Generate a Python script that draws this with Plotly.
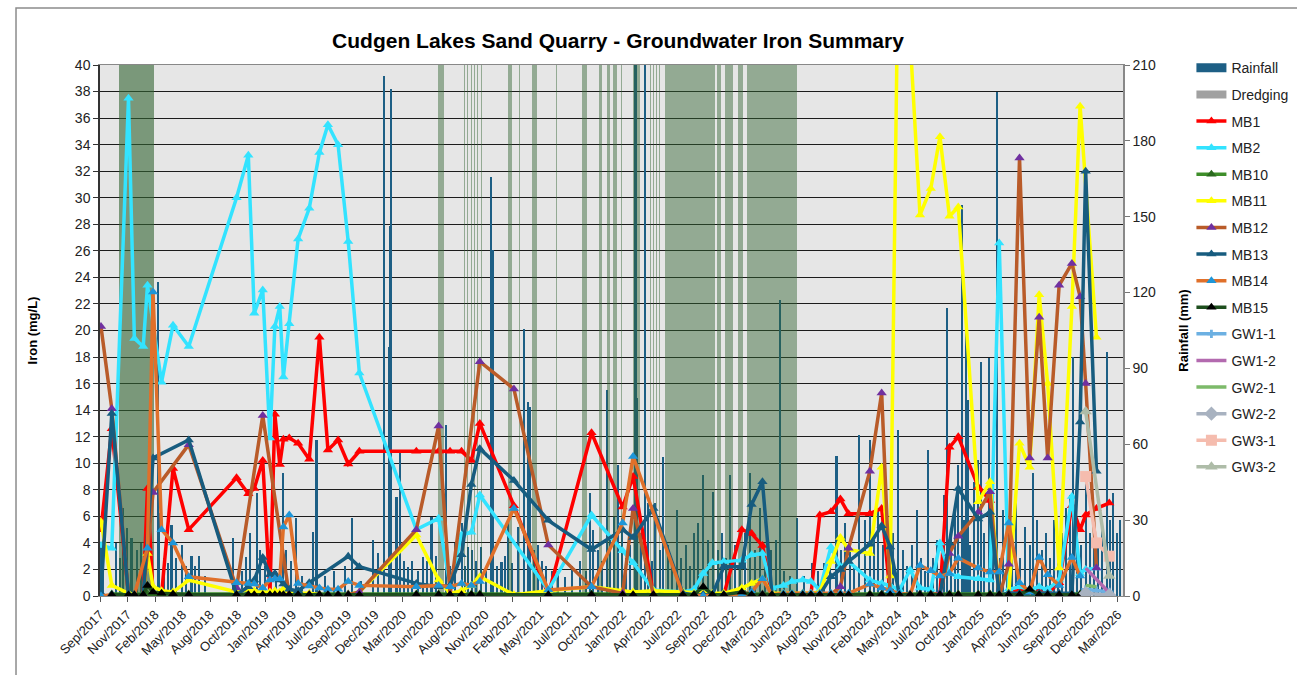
import pandas as pd
import plotly.graph_objects as go

N = None
FONT = "Liberation Sans, Arial, sans-serif"

# ---------------- data ----------------
sample_dates = [
    "2017-09-04", "2017-10-07", "2017-11-27", "2017-12-15", "2018-01-11", "2018-01-24", "2018-02-10", "2018-03-08", "2018-04-12", "2018-05-30",
    "2018-10-23", "2018-11-28", "2018-12-16", "2019-01-11", "2019-02-02", "2019-02-17", "2019-03-04", "2019-03-15", "2019-04-02", "2019-04-29",
    "2019-06-02", "2019-07-03", "2019-07-29", "2019-08-29", "2019-09-29", "2019-11-02", "2020-04-24", "2020-07-01", "2020-08-05", "2020-09-09",
    "2020-10-09", "2020-11-04", "2021-02-16", "2021-06-01", "2021-10-11", "2022-01-14", "2022-02-15", "2022-04-18", "2022-07-17", "2022-08-20",
    "2022-09-17", "2022-10-15", "2022-11-19", "2023-01-13", "2023-02-12", "2023-03-17", "2023-04-15", "2023-05-20", "2023-06-15", "2023-07-18",
    "2023-08-12", "2023-09-08", "2023-10-12", "2023-11-10", "2023-12-05", "2024-02-08", "2024-03-15", "2024-04-10", "2024-05-08", "2024-06-10",
    "2024-07-10", "2024-08-12", "2024-09-09", "2024-10-08", "2024-11-04", "2025-01-04", "2025-02-09", "2025-03-09", "2025-04-07", "2025-05-10",
    "2025-06-10", "2025-07-09", "2025-08-04", "2025-09-08", "2025-10-17", "2025-11-11", "2025-11-28", "2025-12-31", "2026-02-08",
]

mb1 = [5.0, 12.6, 0.1, 0.1, 0.1, 8.1, 0.1, 0.1, 9.6, 5.0,
       8.9, 7.7, 8.1, 10.2, 0.2, 13.7, 9.9, 11.8, 11.9, 11.5,
       10.3, 19.5, 11.0, 11.75, 9.95, 10.9, 10.9, 10.9, 10.9, 10.9,
       10.2, 13.0, 6.8, 0.1, 12.3, 6.7, 9.0, 0.1, 0.1, 0.1,
       0.1, 0.1, 0.1, 5.0, 4.7, 3.8, 0.1, 0.1, 0.1, 0.1,
       0.1, 6.1, 6.35, 7.3, 6.2, 6.2, 6.6, 0.1, 0.1, 0.1,
       0.1, 0.1, 0.1, 11.2, 12.0, 8.2, 7.2, 0.1, 0.2, 0.5,
       0.2, 0.3, 0.2, 1.0, 6.8, 5.0, 6.1, 6.6, 7.0]

mb2 = [3.8, 3.6, 37.5, 19.4, 18.8, 23.4, N, 16.1, 20.4, 18.8,
       30.0, 33.2, 21.3, 23.05, 11.9, 20.3, 21.8, 16.5, 20.5, 26.9,
       29.2, 33.4, 35.5, 34.0, 26.7, 16.8, 5.0, 5.85, 0.8, 4.6,
       4.8, 7.6, N, 0.45, 6.1, 3.4, 2.5, 0.45, 0.3, 0.5,
       1.7, 2.5, 2.6, 2.7, 3.1, 3.2, 0.6, 0.8, 1.1, 1.2,
       1.1, 0.45, 3.7, 2.2, 2.6, 1.2, 0.95, 0.8, 0.45, 1.96,
       0.6, 0.5, 4.0, 1.7, 1.45, 1.3, 1.2, 26.6, 0.5, 0.7,
       0.5, 0.7, 0.5, 1.2, 7.5, 1.7, 2.0, 2.1, N]

mb10 = [N, 0.15, 0.15, 0.15, 0.15, 0.15, 0.15, 0.15, 0.15, 0.15,
        0.15, 0.15, 0.15, 0.15, 0.15, 0.15, 0.15, 0.15, 0.15, 0.15,
        0.15, 0.15, 0.15, 0.15, 0.15, 0.15, 0.15, 0.15, 0.15, 0.15,
        0.15, 0.15, N, 0.15, 0.15, 0.15, 0.15, 0.15, 0.15, 0.15,
        0.15, 0.15, 0.15, 0.15, 0.15, 0.15, 0.15, 0.15, 0.15, 0.15,
        0.15, 0.15, 0.15, 0.15, 0.15, 0.15, 0.15, 0.15, 0.15, 0.15,
        0.15, 0.15, 0.15, 0.15, 0.15, 0.15, 0.15, 0.15, 0.15, 0.15,
        0.15, 0.15, 0.15, 0.15, 0.15, 0.15, N, N, N]

mb11 = [5.6, 0.8, 0.2, 0.1, 0.1, 3.2, 0.7, 0.4, 0.3, 1.2,
        0.3, 0.5, 0.4, 0.3, 0.3, 0.4, 0.3, 0.5, 0.3, 0.2,
        0.2, 0.1, 0.1, 0.1, 0.1, 0.3, 4.6, 1.2, 0.2, 0.4,
        0.8, 1.45, 0.1, 0.4, 0.7, 0.4, 0.3, 0.4, 0.3, 0.2,
        0.2, 0.2, 0.2, 0.6, 0.95, 1.3, 0.2, 0.2, 0.2, 0.2,
        0.2, 0.3, 2.6, 4.4, 3.5, 3.2, 9.7, 1.5, 55.0, 42.0,
        28.7, 30.7, 34.6, 28.6, 29.3, 7.1, 8.6, 0.1, 0.2, 11.5,
        9.7, 22.7, 16.0, 2.1, 21.8, 36.9, N, 19.5, N]

mb12 = [20.3, 14.1, 0.1, 0.1, 0.1, N, 7.8, N, N, 11.4,
        0.6, N, N, 13.6, N, N, N, N, 0.0, 0.1,
        0.1, 0.1, 0.1, 0.1, 0.1, 0.3, 5.0, 12.8, 0.1, N,
        N, 17.65, 15.6, 3.85, 0.7, 0.2, 6.6, 0.1, 0.1, 0.1,
        0.1, 0.1, 0.1, 0.1, 0.1, 0.1, 0.1, 0.1, 0.1, 0.1,
        0.1, 0.1, 0.1, 0.7, 3.6, 9.4, 15.3, 0.1, 0.1, 0.1,
        0.1, 0.1, 0.2, 3.2, 4.5, 6.3, 7.85, 0.0, 2.4, 33.0,
        10.4, 21.0, 10.4, 23.4, 25.05, 22.55, 16.0, 2.1, N]

mb13 = [0.2, 13.75, 0.1, 0.1, 0.1, N, 10.4, N, N, 11.75,
        0.1, 0.7, 1.2, 2.9, 1.6, 1.7, 1.2, 0.9, 0.5, 0.4,
        1.0, N, N, N, 3.0, 2.2, 0.95, 0.7, 0.8, 3.1,
        8.4, 11.1, 8.7, 5.7, 3.5, 5.0, 4.4, 6.6, 0.2, 0.1,
        0.1, 0.1, 2.2, 2.2, 6.9, 8.6, 0.1, 0.1, 0.1, 0.1,
        0.1, 0.1, 1.45, 2.0, 2.6, 3.9, 5.3, 3.7, 0.1, 0.1,
        0.1, 0.1, 0.1, 4.0, 8.1, 5.8, 6.3, 0.1, 0.2, 0.2,
        0.2, 0.2, 0.2, 0.2, 0.2, 13.1, 32.0, 9.4, N]

mb14 = [0.0, 0.1, 0.1, 0.1, N, 3.6, 22.9, 5.0, 4.0, 1.45,
        1.0, 0.95, 0.9, 0.6, 1.2, 1.3, 1.3, 5.2, 6.1, 0.95,
        0.75, 0.6, 0.5, 0.5, 1.1, 0.8, 0.7, 0.8, 0.7, 0.95,
        0.8, 1.1, 6.6, 0.45, 0.7, 5.5, 10.5, N, 0.1, 0.1,
        0.0, 0.1, 0.1, 0.1, 0.3, 1.3, 0.1, 0.2, 0.2, 0.2,
        0.2, 0.2, 0.2, 0.2, 0.2, 0.9, 0.6, 0.4, 0.2, 0.1,
        2.3, 1.9, 1.5, 1.7, 2.85, 2.1, 1.8, 1.8, 5.5, 1.0,
        0.3, 2.9, 1.6, 0.8, 2.9, 1.5, N, N, N]

mb15 = [N, 0.1, 0.1, 0.1, 0.1, 0.8, 0.3, 0.2, 0.15, 0.1,
        0.1, 0.1, 0.1, 0.1, 0.1, 0.1, 0.1, 0.1, 0.1, 0.1,
        0.1, 0.1, 0.1, 0.1, 0.1, 0.1, 0.1, 0.1, 0.1, 0.1,
        0.1, 0.1, N, 0.1, 0.1, 0.1, 0.1, 0.1, 0.1, 0.1,
        0.7, 0.1, 0.1, 0.3, 0.1, 0.1, 0.1, 0.1, 0.1, 0.1,
        0.1, 0.1, 0.1, 0.1, 0.1, 0.1, 0.1, 0.1, 0.1, 0.1,
        0.1, 0.1, 0.1, 0.1, 0.1, 0.1, 0.1, 0.1, 0.1, 0.1,
        0.5, 0.1, 0.1, 0.1, 0.1, 0.1, N, N, N]

gw_dates = ["2025-11-28", "2025-12-31", "2026-02-08"]
gw1_1 = [0.5, 0.4, 0.3]
gw1_2 = [2.1, N, 0.25]
gw2_1 = [0.8, 0.7, N]
gw2_2 = [0.2, N, 0.05]
gw3_1 = [9.0, 4.0, 3.0]
gw3_2 = [13.9, N, 1.5]

# rainfall: day number counted from RAIN_DAY0, and mm
RAIN_DAY0 = "2017-09-01"
rain_day = [3, 9, 49, 61, 70, 82, 97, 113, 125, 141, 178, 182, 195, 208, 219, 232, 250, 263, 280, 290,
            303, 321, 407, 434, 446, 458, 479, 489, 504, 519, 538, 560, 568, 583, 599, 617, 652, 662, 687, 715,
            748, 771, 797, 835, 849, 868, 883, 886, 890, 906, 916, 929, 942, 953, 971, 988, 999, 1013, 1026, 1057,
            1069, 1084, 1105, 1115, 1125, 1136, 1148, 1164, 1179, 1196, 1201, 1213, 1227, 1237, 1247, 1258, 1278, 1295, 1308, 1315,
            1326, 1338, 1350, 1362, 1381, 1399, 1420, 1442, 1466, 1484, 1497, 1507, 1521, 1533, 1548, 1558, 1570, 1583, 1594, 1607,
            1619, 1636, 1640, 1653, 1666, 1675, 1686, 1695, 1710, 1719, 1735, 1747, 1762, 1775, 1790, 1802, 1814, 1827, 1843, 1857,
            1873, 1888, 1900, 1912, 1924, 1940, 1955, 1970, 1985, 2001, 2016, 2031, 2050, 2065, 2077, 2089, 2108, 2128, 2150, 2175,
            2193, 2211, 2230, 2250, 2263, 2276, 2291, 2303, 2319, 2337, 2352, 2364, 2376, 2392, 2407, 2422, 2438, 2453, 2465, 2480,
            2495, 2508, 2520, 2530, 2544, 2557, 2569, 2578, 2588, 2599, 2612, 2622, 2632, 2639, 2644, 2650, 2657, 2670, 2683, 2690,
            2700, 2715, 2728, 2739, 2749, 2759, 2770, 2786, 2798, 2810, 2825, 2841, 2851, 2862, 2877, 2890, 2902, 2914, 2926, 2938,
            2951, 2963, 2973, 2984, 2996, 3012, 3024, 3036, 3048, 3061, 3077, 3085, 3095, 3106, 3116]
rain_mm = [21, 25, 21, 15, 35, 27, 23, 18, 21, 15, 124, 33, 15, 13, 28, 15, 20, 12, 16, 12,
           16, 8, 23, 10, 15.5, 25, 40.6, 18, 12, 18, 10, 48.5, 18, 14, 30.7, 8, 25.4, 61.7, 8, 10,
           12, 30.7, 6, 22, 17, 205.7, 98.6, 146.5, 200.5, 39.3, 56.4, 14, 11.6, 14, 10, 15.5, 14, 31.4, 16, 67.6,
           12, 20.8, 28.7, 12, 19.5, 18, 14, 19.5, 10, 165.8, 136.8, 12, 13.6, 16, 30, 13, 27.4, 105.5, 76.8, 74.9,
           18, 20, 14, 12, 10, 10, 7.6, 12, 14, 10, 40.6, 26, 18, 14, 81.5, 22, 31.4, 51.8, 31, 15,
           20, 215, 78.5, 25, 215, 36.7, 14, 36.7, 18, 54.8, 20, 12, 34, 15, 20, 12, 25, 28.7, 47.9, 22,
           41.3, 18, 25, 15, 48, 20, 14, 25, 48.5, 18, 35, 14, 18, 22, 117, 10, 8, 31, 8, 13,
           10, 13, 12, 55.4, 18, 28.7, 20, 12, 63.7, 30, 61.7, 22, 35, 20, 15, 25, 65.7, 18, 12, 20,
           34, 15, 10, 57.7, 15, 22, 12, 40, 114, 25, 35, 52, 154.6, 30, 108, 77.5, 20, 45, 53.8, 92.7,
           25, 94.2, 20, 199.5, 15, 34, 20, 25, 45, 15, 27.4, 20, 48.5, 30, 18, 25, 15, 30, 20, 25,
           35, 40, 94.6, 30, 20, 45, 25, 35, 20, 28, 96.4, 30, 40.6, 25, 30]

dredge_start = ["2017-10-29", "2020-06-29", "2020-09-18", "2020-09-27", "2020-10-07", "2020-10-16", "2020-10-25",
                "2020-11-06", "2021-01-29", "2021-03-05", "2021-04-11", "2021-06-26", "2021-09-11", "2021-11-04",
                "2021-11-26", "2021-12-17", "2022-01-10", "2022-02-16", "2022-04-07", "2022-04-16", "2022-04-25",
                "2022-05-04", "2022-05-23", "2022-10-29", "2022-11-23", "2023-01-01", "2023-01-29"]
dredge_end = ["2018-02-12", "2020-07-17", "2020-09-20", "2020-09-29", "2020-10-09", "2020-10-18", "2020-10-27",
              "2020-11-08", "2021-02-10", "2021-03-07", "2021-04-26", "2021-06-28", "2021-09-26", "2021-11-11",
              "2021-12-06", "2021-12-27", "2022-01-12", "2022-03-08", "2022-04-09", "2022-04-18", "2022-04-27",
              "2022-05-08", "2022-10-23", "2022-11-10", "2022-12-17", "2023-01-16", "2023-06-28"]
DREDGE_LEVEL = 210

tick_labels = ["Sep/2017", "Nov/2017", "Feb/2018", "May/2018", "Aug/2018", "Oct/2018", "Jan/2019", "Apr/2019",
               "Jul/2019", "Sep/2019", "Dec/2019", "Mar/2020", "Jun/2020", "Aug/2020", "Nov/2020", "Feb/2021",
               "May/2021", "Jul/2021", "Oct/2021", "Jan/2022", "Apr/2022", "Jul/2022", "Sep/2022", "Dec/2022",
               "Mar/2023", "Jun/2023", "Aug/2023", "Nov/2023", "Feb/2024", "May/2024", "Jul/2024", "Oct/2024",
               "Jan/2025", "Apr/2025", "Jun/2025", "Sep/2025", "Dec/2025", "Mar/2026"]
X_START = "2017-09-01"
X_END = "2026-03-22"
TICK_STEP_DAYS = 84


def fit(vals, n):
    vals = list(vals)[:n]
    return vals + [None] * (n - len(vals))


n_s = len(sample_dates)
# --------------- derived ---------------
tickvals = [(pd.Timestamp(X_START) + pd.Timedelta(days=TICK_STEP_DAYS * k)).strftime("%Y-%m-%d")
            for k in range(len(tick_labels))]
rain_dates = [(pd.Timestamp(RAIN_DAY0) + pd.Timedelta(days=d)).strftime("%Y-%m-%d") for d in rain_day]
ds = pd.to_datetime(dredge_start)
de = pd.to_datetime(dredge_end) + pd.Timedelta(days=1)
dredge_mid = [(a + (b - a) / 2).strftime("%Y-%m-%d %H:%M") for a, b in zip(ds, de)]
dredge_w = [(b - a).total_seconds() * 1000 for a, b in zip(ds, de)]

fig = go.Figure()

RAIN_COLOR = "#1d5f85"
fig.add_trace(go.Bar(x=rain_dates, y=rain_mm, name="Rainfall", yaxis="y", showlegend=False,
                     width=5 * 86400000, marker=dict(color=RAIN_COLOR, line=dict(width=0))))
# dredging periods: first campaign denser shading, later campaigns lighter
fig.add_trace(go.Bar(x=dredge_mid[:1], y=[DREDGE_LEVEL], width=dredge_w[:1], yaxis="y",
                     marker=dict(color="rgba(50,100,50,0.6)", line=dict(width=0)),
                     showlegend=False, hoverinfo="skip"))
fig.add_trace(go.Bar(x=dredge_mid[1:], y=[DREDGE_LEVEL] * (len(dredge_mid) - 1), width=dredge_w[1:], yaxis="y",
                     marker=dict(color="rgba(50,100,50,0.46)", line=dict(width=0)),
                     showlegend=False, hoverinfo="skip"))

# legend keys for the column series (wide rectangular swatches)
fig.add_trace(go.Scatter(x=[None], y=[None], name="Rainfall", mode="lines", yaxis="y",
                         line=dict(color=RAIN_COLOR, width=9), legendgroup="g0"))
fig.add_trace(go.Scatter(x=[None], y=[None], name="Dredging", mode="lines", yaxis="y",
                         line=dict(color="#a1a1a1", width=8), legendgroup="g1"))

series = [
    ("MB1", mb1, "#ff0000", "#ff0000", "triangle-up", "lines+markers"),
    ("MB2", mb2, "#33e3ff", "#33e3ff", "triangle-up", "lines+markers"),
    ("MB10", mb10, "#3e8e2a", "#2b6b1f", "triangle-up", "lines+markers"),
    ("MB11", mb11, "#ffff00", "#ffff00", "triangle-up", "lines+markers"),
    ("MB12", mb12, "#b95b29", "#7030a0", "triangle-up", "lines+markers"),
    ("MB13", mb13, "#175c7f", "#175c7f", "triangle-up", "lines+markers"),
    ("MB14", mb14, "#e0702a", "#1e96d8", "triangle-up", "lines+markers"),
    ("MB15", mb15, "#1e4f1e", "#000000", "triangle-up", "lines+markers"),
]
for i, (name, vals, lc, mc, sym, mode) in enumerate(series):
    fig.add_trace(go.Scatter(x=sample_dates, y=fit(vals, n_s), name=name, mode=mode, yaxis="y2",
                             connectgaps=True, line=dict(color=lc, width=3.5),
                             marker=dict(color=mc, symbol=sym, size=9, line=dict(width=0)),
                             legendgroup="s%d" % i))

gw = [
    ("GW1-1", gw1_1, "#6cb0e2", "cross", 7, "lines+markers"),
    ("GW1-2", gw1_2, "#b36aaf", "circle", 1, "lines"),
    ("GW2-1", gw2_1, "#7dba6a", "circle", 1, "lines"),
    ("GW2-2", gw2_2, "#a8b2c0", "diamond", 11, "lines+markers"),
    ("GW3-1", gw3_1, "#f5bcae", "square", 11, "lines+markers"),
    ("GW3-2", gw3_2, "#aebca8", "triangle-up", 11, "lines+markers"),
]
for i, (name, vals, c, sym, sz, mode) in enumerate(gw):
    fig.add_trace(go.Scatter(x=gw_dates, y=vals, name=name, mode=mode, yaxis="y2",
                             connectgaps=True, line=dict(color=c, width=3.5),
                             marker=dict(color=c, symbol=sym, size=sz, line=dict(width=0)),
                             legendgroup="gw%d" % i))

fig.update_layout(
    width=1297, height=675,
    margin=dict(l=100, r=174, t=65, b=79, autoexpand=False),
    paper_bgcolor="white", plot_bgcolor="#e6e6e6",
    barmode="overlay", bargap=0,
    font=dict(family=FONT, color="#222222"),
    title=dict(text="Cudgen Lakes Sand Quarry - Groundwater Iron Summary",
               x=0.4765, xanchor="center", xref="container", y=0.94, yanchor="middle",
               font=dict(size=21, family=FONT, color="black", weight="bold")),
    xaxis=dict(type="date", range=[X_START, X_END], tickmode="array", tickvals=tickvals, ticktext=tick_labels,
               tickangle=-45, ticks="outside", ticklen=5, tickcolor="#555", showline=True, linecolor="#888",
               linewidth=1, mirror=True, showgrid=False, zeroline=False,
               tickfont=dict(size=13, family=FONT, color="#222")),
    yaxis=dict(range=[0, 210], dtick=30, side="right", showgrid=False, zeroline=False,
               ticks="outside", ticklen=5, tickcolor="#777", showline=True, linecolor="#888", linewidth=1.5,
               tickfont=dict(size=14, family=FONT, color="#222"),
               title=dict(text="Rainfall (mm)", standoff=26,
                          font=dict(size=13, family=FONT, color="black", weight="bold"))),
    yaxis2=dict(range=[0, 40], dtick=2, side="left", overlaying="y", showgrid=True,
                gridcolor="#1c1c1c", gridwidth=1.2, zeroline=False,
                ticks="outside", ticklen=5, tickcolor="#333", showline=True, linecolor="#333", linewidth=1.5,
                tickfont=dict(size=14, family=FONT, color="#222"),
                title=dict(text="Iron (mg/L)", standoff=34,
                           font=dict(size=13, family=FONT, color="black", weight="bold"))),
    legend=dict(xref="container", x=0.9186, xanchor="left", y=1.024, yanchor="top",
                traceorder="grouped", tracegroupgap=5.4,
                font=dict(size=14, family=FONT, color="#222"), bgcolor="rgba(0,0,0,0)", itemwidth=30,
                maxheight=620),
    showlegend=True,
)

fig.add_shape(type="rect", xref="paper", yref="paper", x0=-0.0821, x1=1.4, y0=-0.4, y1=1.1073,
              line=dict(color="#8c8c8c", width=1.5), fillcolor="rgba(0,0,0,0)", layer="above")

fig.write_html("out.html", config={"displayModeBar": False},
               post_script="document.body.style.margin='0px';")
